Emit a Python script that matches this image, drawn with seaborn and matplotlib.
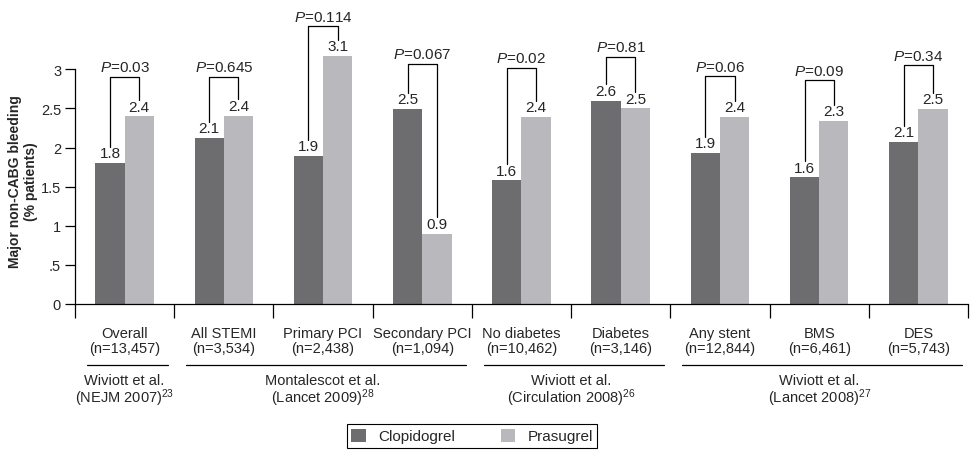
import matplotlib
matplotlib.use("Agg")
import matplotlib.pyplot as plt
import matplotlib.transforms as mtransforms
import seaborn as sns
import pandas as pd
import numpy as np

# data
subgroups = ["Overall", "All STEMI", "Primary PCI", "Secondary PCI", "No diabetes",
             "Diabetes", "Any stent", "BMS", "DES"]
sizes = ["13,457", "3,534", "2,438", "1,094", "10,462", "3,146", "12,844", "6,461", "5,743"]
clopidogrel = [1.8, 2.12, 1.89, 2.49, 1.58, 2.6, 1.93, 1.62, 2.07]
prasugrel = [2.4, 2.41, 3.17, 0.9, 2.39, 2.5, 2.39, 2.34, 2.49]
clop_labels = ["1.8", "2.1", "1.9", "2.5", "1.6", "2.6", "1.9", "1.6", "2.1"]
pras_labels = ["2.4", "2.4", "3.1", "0.9", "2.4", "2.5", "2.4", "2.3", "2.5"]
p_values = ["0.03", "0.645", "0.114", "0.067", "0.02", "0.81", "0.06", "0.09", "0.34"]
bracket_tops = [2.90, 2.90, 3.55, 3.07, 3.02, 3.16, 2.91, 2.86, 3.05]
studies = ["Wiviott et al.\n(NEJM 2007)$^{23}$",
           "Montalescot et al.\n(Lancet 2009)$^{28}$",
           "Wiviott et al.\n(Circulation 2008)$^{26}$",
           "Wiviott et al.\n(Lancet 2008)$^{27}$"]
study_first = [0, 1, 4, 6]
study_last = [0, 3, 5, 8]

sns.set_style("ticks")
plt.rcParams["font.family"] = ["Liberation Sans", "DejaVu Sans"]
plt.rcParams["mathtext.fontset"] = "custom"
plt.rcParams["mathtext.rm"] = "Liberation Sans"
plt.rcParams["mathtext.it"] = "Liberation Sans:italic"

df = pd.DataFrame({
    "subgroup": subgroups * 2,
    "drug": ["Clopidogrel"] * len(subgroups) + ["Prasugrel"] * len(subgroups),
    "value": clopidogrel + prasugrel,
})

fig = plt.figure(figsize=(9.75, 4.52), dpi=100)
ax = fig.add_axes([75 / 975, 1 - 305 / 452, 893 / 975, 305 / 452])
sns.barplot(data=df, x="subgroup", y="value", hue="drug", ax=ax,
            palette=["#6d6d6f", "#b9b9bd"], width=0.59, linewidth=0, saturation=1)

handles, labels = ax.get_legend_handles_labels()
ax.get_legend().remove()

# value labels
for cont, labs in zip(ax.containers, [clop_labels, pras_labels]):
    ax.bar_label(cont, labels=labs, padding=2, fontsize=11)

# P-value brackets
leg_gap = 0.21
for i in range(len(subgroups)):
    b1 = ax.containers[0][i]
    b2 = ax.containers[1][i]
    x1 = b1.get_x() + b1.get_width() / 2
    x2 = b2.get_x() + b2.get_width() / 2
    top = bracket_tops[i]
    ax.plot([x1, x1, x2, x2],
            [clopidogrel[i] + leg_gap, top, top, prasugrel[i] + leg_gap],
            color="black", lw=0.9, clip_on=False)
    ax.annotate(r"$\mathit{P}$=" + p_values[i], xy=((x1 + x2) / 2, top),
                xytext=(0, 2), textcoords="offset points",
                ha="center", va="bottom", fontsize=11)

ax.set_ylim(0, 3.9)
ax.set_xlim(-0.5, len(subgroups) - 0.5)
ax.set_yticks([0, 0.5, 1, 1.5, 2, 2.5, 3])
ax.set_yticklabels(["0", ".5", "1", "1.5", "2", "2.5", "3"], fontsize=10.5)
ax.set_xticks(np.arange(-0.5, len(subgroups), 1))
ax.set_xticklabels([])
ax.set_xticks(range(len(subgroups)), minor=True)
ax.set_xticklabels([f"{s}\n(n={n})" for s, n in zip(subgroups, sizes)],
                   minor=True, fontsize=10.5)
for lab in ax.get_xticklabels(minor=True):
    lab.set_linespacing(1.05)
ax.tick_params(axis="x", which="major", direction="out", length=10, width=0.9, color="black")
ax.tick_params(axis="x", which="minor", length=0, pad=16)
ax.tick_params(axis="y", direction="out", length=7, width=0.9, color="black", pad=3)
ax.set_xlabel("")
ax.set_ylabel("")

sns.despine(ax=ax)
ax.spines["left"].set_bounds(0, 3)
for sp in ["left", "bottom"]:
    ax.spines[sp].set_linewidth(0.9)
    ax.spines[sp].set_color("black")

fig.text(23 / 975, 1 - 182 / 452, "Major non-CABG bleeding\n(% patients)",
         rotation=90, ha="center", va="center", fontsize=10, fontweight="bold",
         multialignment="center")

# study group lines and labels
trans = mtransforms.blended_transform_factory(ax.transData, fig.transFigure)
for name, a, b in zip(studies, study_first, study_last):
    ax.plot([a - 0.5 + 0.12, b + 0.5 - 0.06], [1 - 366 / 452] * 2, color="black",
             lw=0.9, transform=trans, clip_on=False)
    ax.text((a + b) / 2, 1 - 374 / 452, name, transform=trans, ha="center",
            va="top", fontsize=10.5, multialignment="center", linespacing=0.95)

leg = fig.legend(handles, labels, loc="center", bbox_to_anchor=(472 / 975, 1 - 437 / 452),
                 ncol=2, frameon=True, fancybox=False, edgecolor="black", framealpha=1,
                 handlelength=0.95, handleheight=0.95, handletextpad=0.8,
                 columnspacing=3.0, borderpad=0.3, fontsize=11)
leg.get_frame().set_linewidth(0.8)

fig.savefig("out.png", dpi=100)
